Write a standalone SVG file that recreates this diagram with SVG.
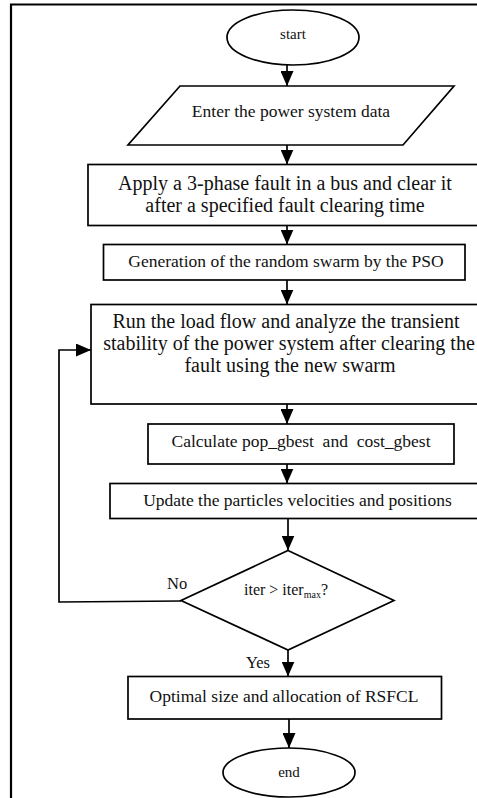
<svg xmlns="http://www.w3.org/2000/svg" width="477" height="798" viewBox="0 0 477 798">
  <defs>
    <marker id="arrow" markerUnits="userSpaceOnUse" markerWidth="15" markerHeight="13" refX="15" refY="6.5" orient="auto">
      <path d="M0,0 L15,6.5 L0,13 z" fill="#000"/>
    </marker>
    <style>
      .shape { fill: #fff; stroke: #000; stroke-width: 1.7; }
      .edge { fill: none; stroke: #000; stroke-width: 1.7; marker-end: url(#arrow); }
      text { font-family: "Liberation Serif", "Times New Roman", serif; fill: #111; }
      .t { font-size: 17.5px; text-anchor: middle; }
      .big { font-size: 20px; text-anchor: middle; }
      .term { font-size: 15px; text-anchor: middle; }
      .lbl { font-size: 16.5px; }
    </style>
  </defs>

  <rect width="477" height="798" fill="#fff"/>

  <!-- page frame (top and left rules) -->
  <path d="M11,798 L11,4.5 L477,4.5" fill="none" stroke="#000" stroke-width="2.2"/>

  <g id="connectors">
    <line class="edge" x1="287" y1="65" x2="287" y2="86"/>
    <line class="edge" x1="287" y1="145" x2="287" y2="164.5"/>
    <line class="edge" x1="287" y1="225.5" x2="287" y2="244.5"/>
    <line class="edge" x1="287" y1="280" x2="287" y2="304.5"/>
    <line class="edge" x1="287" y1="404" x2="287" y2="424"/>
    <line class="edge" x1="287" y1="464" x2="287" y2="483.5"/>
    <line class="edge" x1="288" y1="518.5" x2="288" y2="550.5"/>
    <polyline class="edge" points="181,601 59,602 59,350 91,350"/>
    <line class="edge" x1="288" y1="650" x2="288" y2="676.5"/>
    <line class="edge" x1="289" y1="719" x2="289" y2="748"/>
    <text class="lbl" x="167" y="589">No</text>
    <text class="lbl" x="246" y="668">Yes</text>
  </g>

  <g id="start">
    <ellipse class="shape" cx="293" cy="37.5" rx="66" ry="27.5"/>
    <text class="term" x="293" y="39">start</text>
  </g>

  <g id="input">
    <polygon class="shape" points="180,86 454,86 403,145 128,145"/>
    <text class="t" x="291" y="117">Enter the power system data</text>
  </g>

  <g id="fault">
    <rect class="shape" x="88" y="164.5" width="392" height="61"/>
    <text class="big" x="285" y="190">Apply a 3-phase fault in a bus and clear it</text>
    <text class="big" x="285" y="212">after a specified fault clearing time</text>
  </g>

  <g id="swarm">
    <rect class="shape" x="103.5" y="244.5" width="361.5" height="35.5"/>
    <text class="t" x="286" y="267">Generation of the random swarm by the PSO</text>
  </g>

  <g id="loadflow">
    <rect class="shape" x="91" y="304.5" width="390" height="99.5"/>
    <text class="big" x="286" y="328">Run the load flow and analyze the transient</text>
    <text class="big" x="289" y="350">stability of the power system after clearing the</text>
    <text class="big" x="290" y="372">fault using the new swarm</text>
  </g>

  <g id="gbest">
    <rect class="shape" x="148" y="424" width="306" height="40"/>
    <text class="t" x="301" y="447" style="white-space:pre">Calculate pop_gbest  and  cost_gbest</text>
  </g>

  <g id="update">
    <rect class="shape" x="110" y="483.5" width="370" height="35"/>
    <text class="t" x="297.5" y="506">Update the particles velocities and positions</text>
  </g>

  <g id="decision">
    <polygon class="shape" points="288,550.5 394,600.5 288,650 181,600.5"/>
    <text x="244" y="595" font-size="16">iter &gt; iter<tspan font-size="10" dy="3">max</tspan><tspan dy="-3">?</tspan></text>
  </g>

  <g id="result">
    <rect class="shape" x="128" y="676.5" width="313.5" height="42.5"/>
    <text class="t" x="284" y="702">Optimal size and allocation of RSFCL</text>
  </g>

  <g id="end">
    <ellipse class="shape" cx="289" cy="772.5" rx="66" ry="24.5"/>
    <text class="term" x="289" y="777">end</text>
  </g>
</svg>
